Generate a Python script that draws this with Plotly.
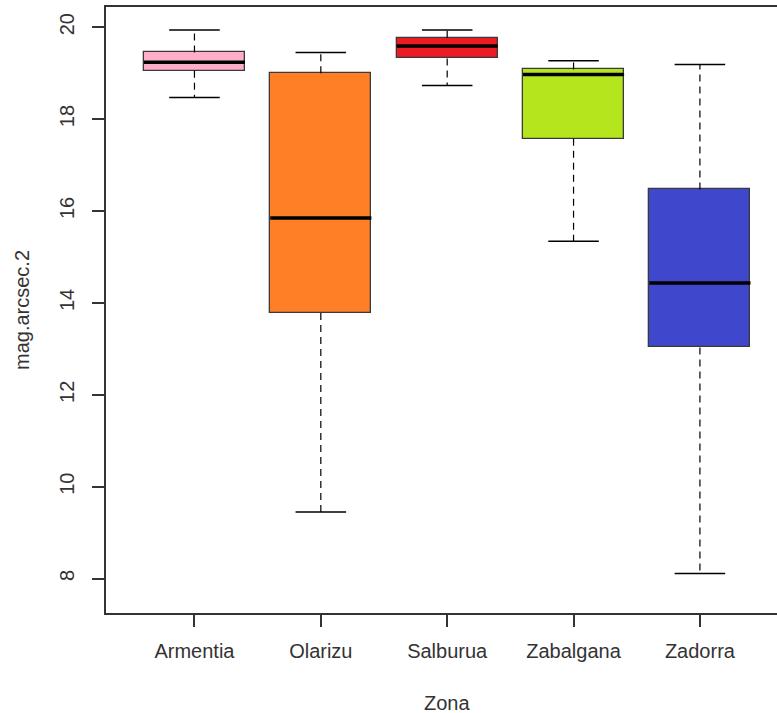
import plotly.graph_objects as go

# Summary statistics per zone (mag/arcsec^2)
zonas = ["Armentia", "Olarizu", "Salburua", "Zabalgana", "Zadorra"]
lower_whisker = [18.47, 9.45, 18.73, 15.34, 8.11]
q1 = [19.05, 13.78, 19.32, 17.57, 13.03]
median = [19.24, 15.85, 19.59, 18.97, 14.43]
q3 = [19.45, 19.00, 19.77, 19.08, 16.47]
upper_whisker = [19.94, 19.45, 19.94, 19.27, 19.19]
colores = ["#FFAEC9", "#FF7F27", "#ED1C24", "#B5E61D", "#3F48CC"]
y_ticks = [8, 10, 12, 14, 16, 18, 20]

pos = list(range(1, len(zonas) + 1))
box_w = 0.8
cap_w = 0.4
ink = "#333333"
font = dict(family="Liberation Sans, Arial, sans-serif", size=20, color=ink)

fig = go.Figure()

# dashed whiskers from the box edges to the extremes
wx, wy = [], []
for p, lo, a, b, hi in zip(pos, lower_whisker, q1, q3, upper_whisker):
    wx += [p, p, None, p, p, None]
    wy += [b, hi, None, a, lo, None]
fig.add_trace(go.Scatter(x=wx, y=wy, mode="lines", hoverinfo="skip",
                         line=dict(color="black", width=1.2, dash="7px,5px")))

# whisker caps
cx, cy = [], []
for p, lo, hi in zip(pos, lower_whisker, upper_whisker):
    cx += [p - cap_w / 2, p + cap_w / 2, None, p - cap_w / 2, p + cap_w / 2, None]
    cy += [hi, hi, None, lo, lo, None]
fig.add_trace(go.Scatter(x=cx, y=cy, mode="lines", hoverinfo="skip",
                         line=dict(color="black", width=1.5)))

# boxes (Q1..Q3)
fig.add_trace(go.Bar(
    x=pos, y=[b - a for a, b in zip(q1, q3)], base=q1, width=box_w,
    marker=dict(color=colores, line=dict(color="#3a3a3a", width=1.3)),
    hoverinfo="skip"))

# medians
mx, my = [], []
for p, m in zip(pos, median):
    mx += [p - box_w / 2, p + box_w / 2, None]
    my += [m, m, None]
fig.add_trace(go.Scatter(x=mx, y=my, mode="lines", hoverinfo="skip",
                         line=dict(color="black", width=3.5)))

fig.update_layout(
    width=777, height=713,
    margin=dict(l=106, r=0, t=7, b=100),
    paper_bgcolor="white", plot_bgcolor="white",
    showlegend=False, font=font, bargap=0,
    xaxis=dict(range=[0.3, 5.61], tickvals=pos, ticktext=zonas,
               showline=True, mirror=True, linecolor=ink, linewidth=1.5,
               ticks="outside", ticklen=12, tickwidth=1.5, tickcolor=ink,
               ticklabelstandoff=7,
               showgrid=False, zeroline=False, tickfont=font),
    yaxis=dict(range=[7.25, 20.44], tickvals=y_ticks,
               showline=True, linecolor=ink, linewidth=1.5,
               ticks="outside", ticklen=12, tickwidth=1.5, tickcolor=ink,
               ticklabelstandoff=10,
               tickangle=-90, showgrid=False, zeroline=False, tickfont=font),
    annotations=[
        dict(text="Zona", x=3, xref="x", y=0, yref="paper",
             yanchor="middle", yshift=-90, showarrow=False, font=font),
        dict(text="mag.arcsec.2", x=0, xref="paper", y=0.5, yref="paper",
             xanchor="center", yanchor="middle", xshift=-84, textangle=-90,
             showarrow=False, font=font),
    ],
)

fig.write_html("out.html")
